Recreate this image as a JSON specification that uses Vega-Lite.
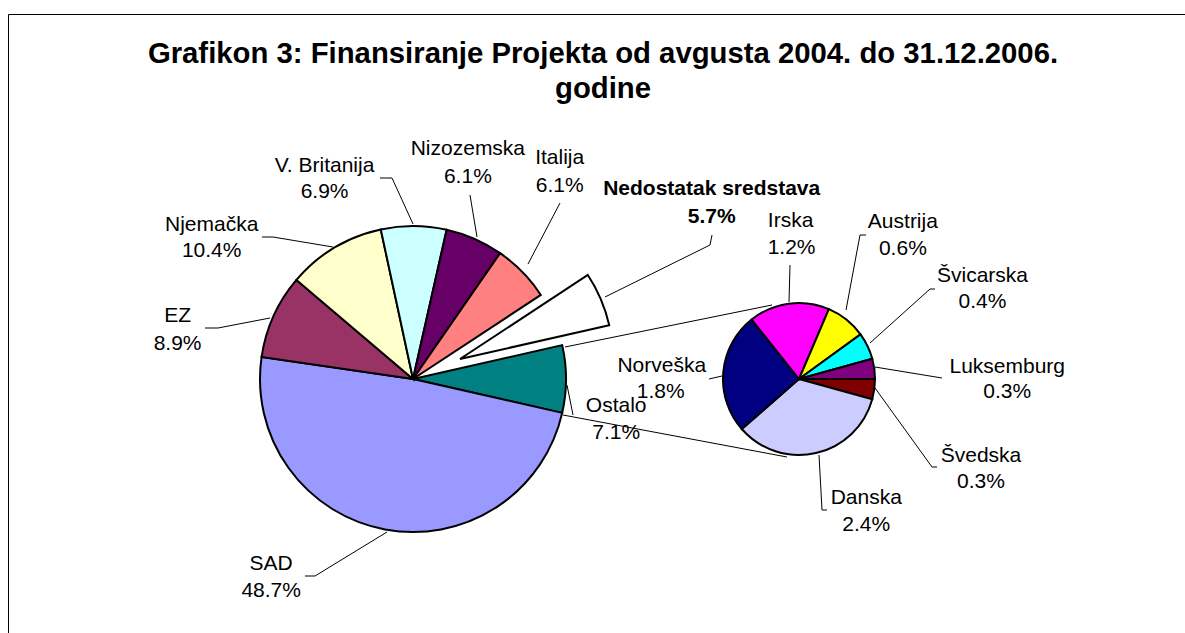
{
  "$schema": "https://vega.github.io/schema/vega-lite/v6.json",
  "autosize": {"type": "none"},
  "width": 1190,
  "height": 640,
  "padding": {"left": 8, "top": 14, "right": 0, "bottom": 0},
  "background": "white",
  "config": {
    "view": {"stroke": "black", "strokeWidth": 1},
    "font": "Liberation Sans",
    "text": {"font": "Liberation Sans", "fontSize": 21, "color": "black", "align": "center", "baseline": "alphabetic", "radius": 154},
    "rule": {"color": "black", "strokeWidth": 1}
  },
  "title": {
    "text": ["Grafikon 3: Finansiranje Projekta od avgusta 2004. do 31.12.2006.", "godine"],
    "font": "Liberation Sans",
    "fontSize": 29.3,
    "fontWeight": "bold",
    "color": "black",
    "lineHeight": 35,
    "anchor": "middle",
    "baseline": "alphabetic",
    "frame": "group",
    "offset": -113
  },
  "data": {
    "values": [
      {"pie": "main", "order": 1, "name": "Ostalo", "share": 0.071},
      {"pie": "main", "order": 2, "name": "SAD", "share": 0.487},
      {"pie": "main", "order": 3, "name": "EZ", "share": 0.089},
      {"pie": "main", "order": 4, "name": "Njemačka", "share": 0.104},
      {"pie": "main", "order": 5, "name": "V. Britanija", "share": 0.069},
      {"pie": "main", "order": 6, "name": "Nizozemska", "share": 0.061},
      {"pie": "main", "order": 7, "name": "Italija", "share": 0.061},
      {"pie": "main", "order": 8, "name": "Nedostatak sredstava", "share": 0.057},
      {"pie": "detail", "order": 1, "name": "Švedska", "share": 0.003},
      {"pie": "detail", "order": 2, "name": "Danska", "share": 0.024},
      {"pie": "detail", "order": 3, "name": "Norveška", "share": 0.018},
      {"pie": "detail", "order": 4, "name": "Irska", "share": 0.012},
      {"pie": "detail", "order": 5, "name": "Austrija", "share": 0.006},
      {"pie": "detail", "order": 6, "name": "Švicarska", "share": 0.004},
      {"pie": "detail", "order": 7, "name": "Luksemburg", "share": 0.003}
    ]
  },
  "transform": [
    {"stack": "share", "groupby": ["pie"], "sort": [{"field": "order", "order": "ascending"}], "offset": "normalize", "as": ["t0", "t1"]}
  ],
  "encoding": {
    "x": {"field": "pie", "type": "nominal", "scale": {"type": "point", "domain": ["main", "detail"], "range": [405, 791], "padding": 0}, "axis": null},
    "y": {"field": "pie", "type": "nominal", "scale": {"type": "point", "domain": ["main", "detail"], "range": [365, 365], "padding": 0}, "axis": null}
  },
  "resolve": {"scale": {"theta": "independent"}},
  "layer": [
    {
      "transform": [{"filter": "datum.pie === 'main'"}],
      "encoding": {
        "theta": {"field": "t0", "type": "quantitative", "scale": {"domain": [0, 1], "range": [1.3476, 7.6308]}}
      },
      "layer": [
        {
          "transform": [{"filter": "datum.name !== 'Nedostatak sredstava'"}],
          "mark": {"type": "arc", "outerRadius": 153, "stroke": "black", "strokeWidth": 2},
          "encoding": {
            "theta2": {"field": "t1"},
            "color": {"field": "name", "type": "nominal", "legend": null,
              "scale": {
                "domain": ["Ostalo", "SAD", "EZ", "Njemačka", "V. Britanija", "Nizozemska", "Italija", "Nedostatak sredstava", "Švedska", "Danska", "Norveška", "Irska", "Austrija", "Švicarska", "Luksemburg"],
                "range": ["#008080", "#9999FF", "#993366", "#FFFFCC", "#CCFFFF", "#660066", "#FF8080", "#FFFFFF", "#800000", "#CCCCFF", "#000080", "#FF00FF", "#FFFF00", "#00FFFF", "#800080"]
              }}
          }
        },
        {
          "transform": [{"filter": "datum.name === 'Nedostatak sredstava'"}],
          "mark": {"type": "arc", "outerRadius": 153, "stroke": "black", "strokeWidth": 2, "xOffset": 47, "yOffset": -20},
          "encoding": {
            "theta2": {"field": "t1"},
            "color": {"field": "name", "type": "nominal", "legend": null,
              "scale": {
                "domain": ["Ostalo", "SAD", "EZ", "Njemačka", "V. Britanija", "Nizozemska", "Italija", "Nedostatak sredstava", "Švedska", "Danska", "Norveška", "Irska", "Austrija", "Švicarska", "Luksemburg"],
                "range": ["#008080", "#9999FF", "#993366", "#FFFFCC", "#CCFFFF", "#660066", "#FF8080", "#FFFFFF", "#800000", "#CCCCFF", "#000080", "#FF00FF", "#FFFF00", "#00FFFF", "#800080"]
              }}
          }
        },
        {
          "transform": [{"filter": "datum.name === 'SAD'"}],
          "layer": [
            {"mark": {"type": "text", "dx": -292, "dy": 157}, "encoding": {"text": {"field": "name"}}},
            {"mark": {"type": "text", "dx": -292, "dy": 184}, "encoding": {"text": {"field": "share", "type": "quantitative", "format": ".1%"}}},
            {"mark": {"type": "rule", "xOffset": -26, "yOffset": 153, "x2Offset": -98, "y2Offset": 197}, "encoding": {"x2": {"field": "pie"}, "y2": {"field": "pie"}}},
            {"mark": {"type": "rule", "xOffset": -98, "yOffset": 197, "x2Offset": -108, "y2Offset": 197}, "encoding": {"x2": {"field": "pie"}, "y2": {"field": "pie"}}}
          ]
        },
        {
          "transform": [{"filter": "datum.name === 'EZ'"}],
          "layer": [
            {"mark": {"type": "text", "dx": -83, "dy": -35}, "encoding": {"text": {"field": "name"}}},
            {"mark": {"type": "text", "dx": -83, "dy": -7}, "encoding": {"text": {"field": "share", "type": "quantitative", "format": ".1%"}}},
            {"mark": {"type": "rule", "xOffset": -143, "yOffset": -61, "x2Offset": -195, "y2Offset": -51}, "encoding": {"x2": {"field": "pie"}, "y2": {"field": "pie"}}},
            {"mark": {"type": "rule", "xOffset": -195, "yOffset": -51, "x2Offset": -208, "y2Offset": -51}, "encoding": {"x2": {"field": "pie"}, "y2": {"field": "pie"}}}
          ]
        },
        {
          "transform": [{"filter": "datum.name === 'Njemačka'"}],
          "layer": [
            {"mark": {"type": "text", "dx": -84, "dy": -48}, "encoding": {"text": {"field": "name"}}},
            {"mark": {"type": "text", "dx": -84, "dy": -22}, "encoding": {"text": {"field": "share", "type": "quantitative", "format": ".1%"}}},
            {"mark": {"type": "rule", "xOffset": -80, "yOffset": -132, "x2Offset": -140, "y2Offset": -142}, "encoding": {"x2": {"field": "pie"}, "y2": {"field": "pie"}}},
            {"mark": {"type": "rule", "xOffset": -140, "yOffset": -142, "x2Offset": -151, "y2Offset": -142}, "encoding": {"x2": {"field": "pie"}, "y2": {"field": "pie"}}}
          ]
        },
        {
          "transform": [{"filter": "datum.name === 'V. Britanija'"}],
          "layer": [
            {"mark": {"type": "text", "dx": -56, "dy": -56}, "encoding": {"text": {"field": "name"}}},
            {"mark": {"type": "text", "dx": -56, "dy": -30}, "encoding": {"text": {"field": "share", "type": "quantitative", "format": ".1%"}}},
            {"mark": {"type": "rule", "xOffset": 0, "yOffset": -155, "x2Offset": -21, "y2Offset": -201}, "encoding": {"x2": {"field": "pie"}, "y2": {"field": "pie"}}},
            {"mark": {"type": "rule", "xOffset": -21, "yOffset": -201, "x2Offset": -33, "y2Offset": -201}, "encoding": {"x2": {"field": "pie"}, "y2": {"field": "pie"}}}
          ]
        },
        {
          "transform": [{"filter": "datum.name === 'Nizozemska'"}],
          "layer": [
            {"mark": {"type": "text", "dx": 21, "dy": -74}, "encoding": {"text": {"field": "name"}}},
            {"mark": {"type": "text", "dx": 21, "dy": -46}, "encoding": {"text": {"field": "share", "type": "quantitative", "format": ".1%"}}},
            {"mark": {"type": "rule", "xOffset": 64, "yOffset": -142, "x2Offset": 57, "y2Offset": -184}, "encoding": {"x2": {"field": "pie"}, "y2": {"field": "pie"}}}
          ]
        },
        {
          "transform": [{"filter": "datum.name === 'Italija'"}],
          "layer": [
            {"mark": {"type": "text", "dx": 59, "dy": -88}, "encoding": {"text": {"field": "name"}}},
            {"mark": {"type": "text", "dx": 59, "dy": -60}, "encoding": {"text": {"field": "share", "type": "quantitative", "format": ".1%"}}},
            {"mark": {"type": "rule", "xOffset": 115, "yOffset": -115, "x2Offset": 147, "y2Offset": -176}, "encoding": {"x2": {"field": "pie"}, "y2": {"field": "pie"}}}
          ]
        },
        {
          "transform": [{"filter": "datum.name === 'Nedostatak sredstava'"}],
          "layer": [
            {"mark": {"type": "text", "dx": 170, "dy": -99, "fontWeight": "bold"}, "encoding": {"text": {"field": "name"}}},
            {"mark": {"type": "text", "dx": 170, "dy": -71, "fontWeight": "bold"}, "encoding": {"text": {"field": "share", "type": "quantitative", "format": ".1%"}}},
            {"mark": {"type": "rule", "xOffset": 192, "yOffset": -82, "x2Offset": 297, "y2Offset": -134}, "encoding": {"x2": {"field": "pie"}, "y2": {"field": "pie"}}},
            {"mark": {"type": "rule", "xOffset": 297, "yOffset": -134, "x2Offset": 299, "y2Offset": -144}, "encoding": {"x2": {"field": "pie"}, "y2": {"field": "pie"}}}
          ]
        },
        {
          "transform": [{"filter": "datum.name === 'Ostalo'"}],
          "layer": [
            {"mark": {"type": "text", "dx": 53, "dy": 67}, "encoding": {"text": {"field": "name"}}},
            {"mark": {"type": "text", "dx": 53, "dy": 94}, "encoding": {"text": {"field": "share", "type": "quantitative", "format": ".1%"}}},
            {"mark": {"type": "rule", "xOffset": 154, "yOffset": 6, "x2Offset": 160, "y2Offset": 36}, "encoding": {"x2": {"field": "pie"}, "y2": {"field": "pie"}}}
          ]
        }
      ]
    },
    {
      "transform": [{"filter": "datum.pie === 'detail'"}],
      "encoding": {
        "theta": {"field": "t0", "type": "quantitative", "scale": {"domain": [0, 1], "range": [1.5708, 7.854]}}
      },
      "layer": [
        {
          "mark": {"type": "arc", "outerRadius": 76, "stroke": "black", "strokeWidth": 2},
          "encoding": {
            "theta2": {"field": "t1"},
            "color": {"field": "name", "type": "nominal", "legend": null,
              "scale": {
                "domain": ["Ostalo", "SAD", "EZ", "Njemačka", "V. Britanija", "Nizozemska", "Italija", "Nedostatak sredstava", "Švedska", "Danska", "Norveška", "Irska", "Austrija", "Švicarska", "Luksemburg"],
                "range": ["#008080", "#9999FF", "#993366", "#FFFFCC", "#CCFFFF", "#660066", "#FF8080", "#FFFFFF", "#800000", "#CCCCFF", "#000080", "#FF00FF", "#FFFF00", "#00FFFF", "#800080"]
              }}
          }
        },
        {
          "transform": [{"filter": "datum.name === 'Švedska'"}],
          "layer": [
            {"mark": {"type": "text", "radius": 76, "dx": 106, "dy": 83}, "encoding": {"text": {"field": "name"}}},
            {"mark": {"type": "text", "radius": 76, "dx": 106, "dy": 109}, "encoding": {"text": {"field": "share", "type": "quantitative", "format": ".1%"}}},
            {"mark": {"type": "rule", "xOffset": 76, "yOffset": 9, "x2Offset": 133, "y2Offset": 88}, "encoding": {"x2": {"field": "pie"}, "y2": {"field": "pie"}}},
            {"mark": {"type": "rule", "xOffset": 133, "yOffset": 88, "x2Offset": 138, "y2Offset": 88}, "encoding": {"x2": {"field": "pie"}, "y2": {"field": "pie"}}}
          ]
        },
        {
          "transform": [{"filter": "datum.name === 'Danska'"}],
          "layer": [
            {"mark": {"type": "text", "radius": 76, "dx": -6, "dy": 105}, "encoding": {"text": {"field": "name"}}},
            {"mark": {"type": "text", "radius": 76, "dx": -6, "dy": 132}, "encoding": {"text": {"field": "share", "type": "quantitative", "format": ".1%"}}},
            {"mark": {"type": "rule", "xOffset": 20, "yOffset": 76, "x2Offset": 23, "y2Offset": 131}, "encoding": {"x2": {"field": "pie"}, "y2": {"field": "pie"}}},
            {"mark": {"type": "rule", "xOffset": 23, "yOffset": 131, "x2Offset": 28, "y2Offset": 131}, "encoding": {"x2": {"field": "pie"}, "y2": {"field": "pie"}}}
          ]
        },
        {
          "transform": [{"filter": "datum.name === 'Norveška'"}],
          "layer": [
            {"mark": {"type": "text", "radius": 76, "dx": -80, "dy": -57}, "encoding": {"text": {"field": "name"}}},
            {"mark": {"type": "text", "radius": 76, "dx": -81, "dy": -31}, "encoding": {"text": {"field": "share", "type": "quantitative", "format": ".1%"}}},
            {"mark": {"type": "rule", "xOffset": -90, "yOffset": 0, "x2Offset": -77, "y2Offset": -3}, "encoding": {"x2": {"field": "pie"}, "y2": {"field": "pie"}}}
          ]
        },
        {
          "transform": [{"filter": "datum.name === 'Irska'"}],
          "layer": [
            {"mark": {"type": "text", "radius": 76, "dx": 39, "dy": -93}, "encoding": {"text": {"field": "name"}}},
            {"mark": {"type": "text", "radius": 76, "dx": 40, "dy": -66}, "encoding": {"text": {"field": "share", "type": "quantitative", "format": ".1%"}}},
            {"mark": {"type": "rule", "xOffset": -10, "yOffset": -77, "x2Offset": -9, "y2Offset": -114}, "encoding": {"x2": {"field": "pie"}, "y2": {"field": "pie"}}}
          ]
        },
        {
          "transform": [{"filter": "datum.name === 'Austrija'"}],
          "layer": [
            {"mark": {"type": "text", "radius": 76, "dx": 74, "dy": -81}, "encoding": {"text": {"field": "name"}}},
            {"mark": {"type": "text", "radius": 76, "dx": 74, "dy": -54}, "encoding": {"text": {"field": "share", "type": "quantitative", "format": ".1%"}}},
            {"mark": {"type": "rule", "xOffset": 47, "yOffset": -69, "x2Offset": 61, "y2Offset": -144}, "encoding": {"x2": {"field": "pie"}, "y2": {"field": "pie"}}},
            {"mark": {"type": "rule", "xOffset": 61, "yOffset": -144, "x2Offset": 67, "y2Offset": -144}, "encoding": {"x2": {"field": "pie"}, "y2": {"field": "pie"}}}
          ]
        },
        {
          "transform": [{"filter": "datum.name === 'Švicarska'"}],
          "layer": [
            {"mark": {"type": "text", "radius": 76, "dx": 122, "dy": -52}, "encoding": {"text": {"field": "name"}}},
            {"mark": {"type": "text", "radius": 76, "dx": 122, "dy": -26}, "encoding": {"text": {"field": "share", "type": "quantitative", "format": ".1%"}}},
            {"mark": {"type": "rule", "xOffset": 71, "yOffset": -36, "x2Offset": 131, "y2Offset": -90}, "encoding": {"x2": {"field": "pie"}, "y2": {"field": "pie"}}},
            {"mark": {"type": "rule", "xOffset": 131, "yOffset": -90, "x2Offset": 136, "y2Offset": -90}, "encoding": {"x2": {"field": "pie"}, "y2": {"field": "pie"}}}
          ]
        },
        {
          "transform": [{"filter": "datum.name === 'Luksemburg'"}],
          "layer": [
            {"mark": {"type": "text", "radius": 76, "dx": 135, "dy": 14}, "encoding": {"text": {"field": "name"}}},
            {"mark": {"type": "text", "radius": 76, "dx": 135, "dy": 39}, "encoding": {"text": {"field": "share", "type": "quantitative", "format": ".1%"}}},
            {"mark": {"type": "rule", "xOffset": 76, "yOffset": -12, "x2Offset": 143, "y2Offset": -1}, "encoding": {"x2": {"field": "pie"}, "y2": {"field": "pie"}}}
          ]
        }
      ]
    },
    {
      "transform": [{"filter": "datum.name === 'Ostalo'"}],
      "layer": [
        {
          "mark": {"type": "rule", "xOffset": 152, "yOffset": -32, "x2Offset": -27, "y2Offset": -74},
          "encoding": {"x2": {"datum": "detail"}, "y2": {"datum": "detail"}}
        },
        {
          "mark": {"type": "rule", "xOffset": 150, "yOffset": 36, "x2Offset": -12, "y2Offset": 78},
          "encoding": {"x2": {"datum": "detail"}, "y2": {"datum": "detail"}}
        }
      ]
    }
  ]
}
